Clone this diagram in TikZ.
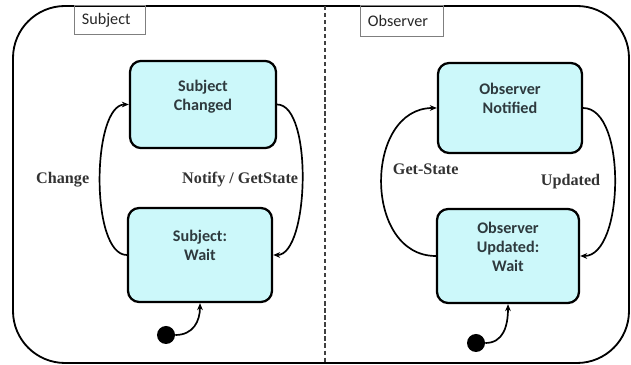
\documentclass[tikz,border=0pt]{standalone}
\usepackage{fontspec}
\setmainfont{Liberation Serif}
\newfontfamily\calibri{Carlito}
\usetikzlibrary{arrows.meta,positioning}
\definecolor{stFill}{HTML}{CCF8FA}
\definecolor{stText}{HTML}{2E3A3E}
\definecolor{lblText}{HTML}{333333}
\definecolor{tagLine}{HTML}{7F7F7F}

\begin{document}
\begin{tikzpicture}[x=0.025cm,y=-0.025cm,
  frame/.style={line width=1.3pt,rounded corners=1.3cm},
  divider/.style={dash pattern=on 3pt off 2pt,line width=0.8pt,draw=black!75},
  tag/.style={draw=tagLine,line width=0.5pt,anchor=north west,inner xsep=0.19cm,inner ysep=0pt,
    align=left,text=black!85,font=\calibri\fontsize{11.5}{13.5}\selectfont},
  state/.style={draw,line width=1.6pt,rounded corners=0.28cm,fill=stFill,text=stText,align=center,
    font=\calibri\bfseries\fontsize{11.5}{13.5}\selectfont},
  initdot/.style={circle,fill=black,minimum size=0.45cm,inner sep=0pt},
  flow/.style={-{Stealth[length=5pt,width=4pt]},line width=1.2pt},
  elab/.style={inner sep=0pt,text=lblText,font=\bfseries\fontsize{11.5}{13.5}\selectfont}]

  \useasboundingbox (0,0) rectangle (631,365);

  \draw[frame] (13,6) rectangle (629,363);
  \draw[divider] (325,6) -- (325,363);

  \node[tag,text width=1.40cm,minimum height=0.73cm] (tSub) at (74,5) {Subject};
  \node[tag,text width=1.70cm,minimum height=0.78cm] (tObs) at (360,5) {Observer};

  \node[state,minimum width=3.65cm,minimum height=2.18cm] (sChg) at (203,104.5)
    {Subject\\Changed\\~};
  \node[state,minimum width=3.60cm,minimum height=2.35cm] (sWait) at (200,255)
    {Subject:\\Wait\\~};
  \node[state,minimum width=3.60cm,minimum height=2.25cm] (oNot) at (510,108)
    {Observer\\Notified\\~};
  \node[state,minimum width=3.55cm,minimum height=2.35cm] (oUpd) at (508,256)
    {Observer\\Updated:\\Wait\\~};

  \node[initdot] (sInit) at (166,335) {};
  \node[initdot] (oInit) at (476,343) {};

  \draw[flow] (sWait.west) .. controls +(-37,0) and +(-37,0) ..
    node[elab,pos=.5,left=0.25cm] {Change} (sChg.west);
  \draw[flow] (sChg.east) .. controls +(36,0) and +(36,0) ..
    node[elab,pos=.5,left=0.08cm] {Notify / GetState} (sWait.east);
  \draw[flow] (oUpd.west) .. controls +(-73,0) and +(-73,0) ..
    node[elab,pos=.56,right=0.24cm] {Get-State} (oNot.west);
  \draw[flow] (oNot.east) .. controls +(44,0) and +(44,0) ..
    node[elab,pos=.5,left=0.34cm] {Updated} (oUpd.east);

  \draw[flow] (sInit.east) .. controls +(18,0) and +(0,18) .. (sWait.south);
  \draw[flow] (oInit.east) .. controls +(18,0) and +(0,22) .. (oUpd.south);
\end{tikzpicture}
\end{document}
